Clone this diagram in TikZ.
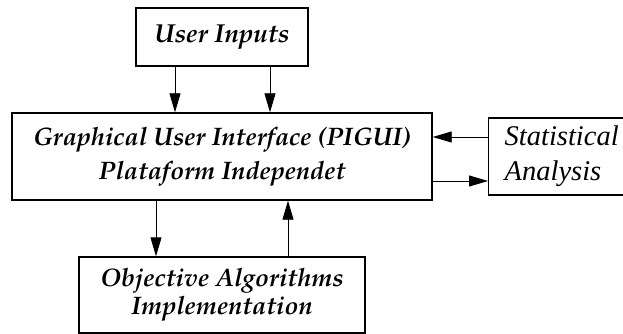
\documentclass[tikz,border=0pt]{standalone}
\usepackage[T1]{fontenc}
\usepackage{fontspec}
\newfontfamily\statfont{Liberation Serif}
\usetikzlibrary{arrows.meta}
\newcommand{\palfont}[2]{\fontencoding{T1}\fontfamily{ppl}\fontseries{b}\fontshape{it}\fontsize{#1}{#2}\selectfont}
\tikzset{
  box/.style={draw, line width=1.4pt, rectangle, inner sep=0pt, align=center},
  arr/.style={line width=0.9pt, -{Triangle[length=19pt,width=11pt]}},
}
\begin{document}
\begin{tikzpicture}[x=1pt,y=-1pt]
\useasboundingbox (0,0) rectangle (623,334);
\node[box, minimum width=172pt, minimum height=58pt, font=\palfont{26}{30}] (user) at (222,37) {User Inputs};
\node[box, minimum width=420pt, minimum height=87pt, font=\palfont{25.3}{34}] (gui) at (222,156.5) {Graphical User Interface (PIGUI)\\Plataform Independet};
\node[box, anchor=west, minimum height=77pt, text width=130pt, inner xsep=16pt, align=left, font=\statfont\itshape\fontsize{28.5}{35}\selectfont] (stat) at (488,156.5) {Statistical\\Analysis};
\node[box, minimum width=286pt, minimum height=76pt, font=\palfont{25.3}{28}] (obj) at (222,295) {Objective Algorithms\\Implementation};
\coordinate (xa) at (175,0);
\coordinate (xb) at (270,0);
\coordinate (xc) at (156,0);
\coordinate (xd) at (288,0);
\coordinate (ya) at (0,137);
\coordinate (yb) at (0,181);
\draw[arr] (user.south -| xa) -- (gui.north -| xa);
\draw[arr] (user.south -| xb) -- (gui.north -| xb);
\draw[arr] (stat.west |- ya) -- (gui.east |- ya);
\draw[arr] (gui.east |- yb) -- (stat.west |- yb);
\draw[arr] (gui.south -| xc) -- (obj.north -| xc);
\draw[arr] (obj.north -| xd) -- (gui.south -| xd);
\end{tikzpicture}
\end{document}
